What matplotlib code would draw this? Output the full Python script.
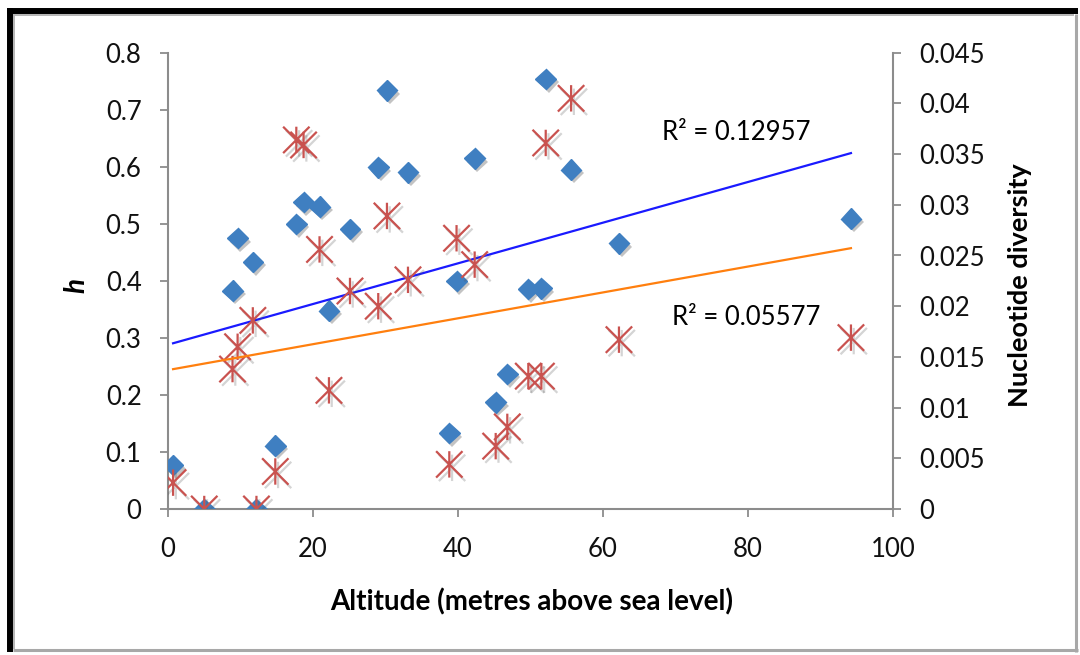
import numpy as np
import matplotlib
matplotlib.use('Agg')
import matplotlib.pyplot as plt
import matplotlib.patheffects as pe
from matplotlib.path import Path
from matplotlib.ticker import MultipleLocator, FuncFormatter

plt.rcParams['font.family'] = ['Lato', 'DejaVu Sans']

# altitude of each sampled population (m a.s.l.)
altitude = [0.7, 5.0, 8.9, 9.6, 11.7, 12.2, 14.8, 17.7, 18.7, 20.9, 22.2, 25.1, 29.0,
            30.2, 33.1, 38.8, 39.8, 42.3, 45.2, 46.8, 49.7, 51.5, 52.1, 55.6, 62.2, 94.2]
# haplotype diversity h
h_div = [0.077, 0.0, 0.383, 0.475, 0.433, 0.0, 0.111, 0.500, 0.538, 0.530, 0.348, 0.491, 0.599,
         0.734, 0.590, 0.133, 0.400, 0.615, 0.187, 0.237, 0.386, 0.387, 0.754, 0.595, 0.466, 0.509]
# nucleotide diversity
nuc_div = [0.0026, 0.0, 0.0138, 0.0160, 0.0186, 0.0, 0.0037, 0.0364, 0.0359, 0.0256, 0.0117,
           0.0215, 0.0200, 0.0289, 0.0226, 0.0044, 0.0267, 0.0241, 0.0062, 0.0081, 0.0131,
           0.0131, 0.0361, 0.0405, 0.0167, 0.0169]

r2_h = 'R² = 0.12957'
r2_nd = 'R² = 0.05577'

fig = plt.figure(figsize=(10.8, 6.55), dpi=100)
ax = fig.add_axes([168 / 1080, 146 / 655, 725 / 1080, 456.3 / 655])
ax2 = ax.twinx()

blue = '#3f7fc1'
red = '#c9524f'
axis_grey = '#8c8c8c'

# Excel-style asterisk: vertical bar plus an X
star = Path([(0, -1), (0, 1), (-1, -1), (1, 1), (-1, 1), (1, -1)],
            [Path.MOVETO, Path.LINETO] * 3)

x = np.array(altitude)
h = np.array(h_div)
nd = np.array(nuc_div)

ax.plot(x, h, linestyle='none', marker='D', markersize=10.5, color=blue, zorder=3,
        path_effects=[pe.SimplePatchShadow(offset=(2, -2.5), shadow_rgbFace='#555555', alpha=0.35),
                      pe.Normal()])
ax2.plot(x, nd, linestyle='none', marker=star, markersize=19, markeredgewidth=1.6,
         color=red, markeredgecolor=red, zorder=3,
         path_effects=[pe.SimpleLineShadow(offset=(2, -2.5), shadow_color='#555555', alpha=0.25),
                       pe.Normal()])

# linear trend lines over the data range
xs = np.array([x.min(), x.max()])
kh = np.polyfit(x, h, 1)
knd = np.polyfit(x, nd, 1)
ax.plot(xs, np.polyval(kh, xs), color='#1a1aff', lw=1.6, zorder=4)
ax2.plot(xs, np.polyval(knd, xs), color='#ff7f0e', lw=1.6, zorder=4)

ax.text(68.2, 0.66, r2_h, fontsize=18.5, va='center', ha='left')
ax.text(69.5, 0.335, r2_nd, fontsize=18.5, va='center', ha='left')

ax.set_xlim(0, 100)
ax.set_ylim(0, 0.8)
ax2.set_ylim(0, 0.045)
ax.xaxis.set_major_locator(MultipleLocator(20))
ax.yaxis.set_major_locator(MultipleLocator(0.1))
ax2.yaxis.set_major_locator(MultipleLocator(0.005))
fmt = FuncFormatter(lambda v, p: '%g' % v)
ax.yaxis.set_major_formatter(fmt)
ax2.yaxis.set_major_formatter(fmt)

for a in (ax, ax2):
    a.spines['top'].set_visible(False)
    for s in ('left', 'right', 'bottom'):
        a.spines[s].set_color(axis_grey)
        a.spines[s].set_linewidth(1.5)
    a.tick_params(colors=axis_grey, labelcolor='#111111', labelsize=18.5,
                  length=6, width=1.3, direction='out')
ax.spines['right'].set_visible(False)
ax2.spines['left'].set_visible(False)
ax2.spines['bottom'].set_visible(False)
ax.tick_params(axis='y', pad=13)
ax.tick_params(axis='x', pad=14)
ax2.tick_params(axis='y', pad=13)

ax.set_xlabel('Altitude (metres above sea level)', fontsize=20, fontweight='bold')
ax.xaxis.set_label_coords(0.501, -0.173)
ax.set_ylabel('h', fontsize=20, fontweight='bold', fontstyle='italic')
ax.yaxis.set_label_coords(-0.109, 0.49)
ax2.set_ylabel('Nucleotide diversity', fontsize=19.5, fontweight='bold')
ax2.yaxis.set_label_coords(1.159, 0.49)

# picture frame: dark top/left edge, light grey bottom/right edge
W, H = 1080, 655
def fline(x0, y0, x1, y1, c, lw):
    fig.add_artist(plt.Line2D([x0 / W, x1 / W], [1 - y0 / H, 1 - y1 / H],
                              color=c, lw=lw, solid_capstyle='butt'))

fline(7, 11, 1078, 11, 'black', 4.3)
fline(10, 8, 10, 652, 'black', 4.3)
fline(13, 15, 1074, 15, '#b5b5b5', 1.4)
fline(14, 14, 14, 649, '#b5b5b5', 1.4)
fline(13, 650, 1078, 650, '#a8a8a8', 2.2)
fline(1076, 14, 1076, 652, '#a8a8a8', 2.2)

fig.savefig('out.png', dpi=100)
